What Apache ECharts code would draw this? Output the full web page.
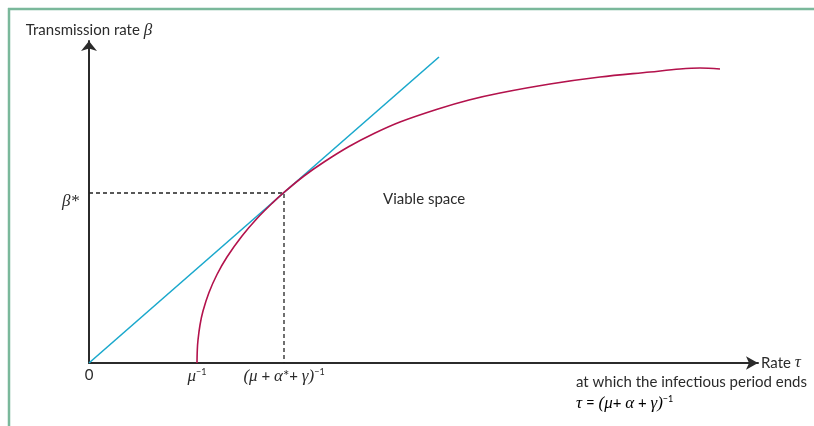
<!DOCTYPE html>
<html>
<head>
<meta charset="utf-8">
<script src="https://cdn.jsdelivr.net/npm/echarts@6/dist/echarts.min.js"></script>
<style>
  html, body { margin: 0; padding: 0; background: #fff; }
  #chart { width: 814px; height: 426px; }
</style>
</head>
<body>
<div id="chart"></div>
<script>
// 切线（青色）两端
const lineTau = [0, 350]
const lineBeta = [0, 306]
// 可行边界曲线（红色）
const curveTau = [108, 108.3, 109, 111, 114, 120, 128, 138, 153, 168, 183, 195, 215, 235, 260, 285, 311, 349, 380, 411, 461, 511, 561, 591, 611, 631]
const curveBeta = [0, 13, 23, 38, 52, 70.5, 88.5, 106, 127, 144.5, 159.6, 170.6, 187, 201, 216.5, 229.5, 241, 254, 263, 270, 279, 286, 291, 294, 295, 294]
// 切点
const tauStar = 195
const betaStar = 170
const muInv = 108
// 刻度
const tickTau = [0, muInv, tauStar]
const tickBeta = [betaStar]

const textColor = '#2b2b2b'
const sans = 'Lato'
const serif = 'Liberation Serif'

const rich = {
  t: { fontFamily: sans, fontSize: 15, color: textColor },
  m: { fontFamily: serif, fontStyle: 'italic', fontSize: 17, color: textColor },
  s: { fontFamily: sans, fontSize: 9, color: textColor, verticalAlign: 'top', lineHeight: 10 }
}

const xLabelText = {}
xLabelText[0] = '{t|0}'
xLabelText[muInv] = '{m|μ}{s|−1}'
xLabelText[tauStar] = '{m|(μ}{t| + }{m|α}{t|*+ }{m|γ)}{s|−1}'

const chart = echarts.init(document.getElementById('chart'))

const option = {
  animation: false,
  backgroundColor: '#fff',
  grid: { left: 89, right: 56, top: 41, bottom: 63 },
  xAxis: {
    type: 'value',
    min: 0,
    max: 669,
    name: '{t|Rate }{m|τ}',
    nameLocation: 'end',
    nameGap: 3,
    nameTextStyle: { rich: rich },
    splitLine: { show: false },
    axisTick: { show: false },
    axisLine: {
      lineStyle: { color: textColor, width: 2 },
      symbol: ['none', 'arrow'],
      symbolSize: [10, 12]
    },
    axisLabel: {
      customValues: tickTau,
      margin: 5,
      formatter: v => xLabelText[v] || '',
      rich: rich
    }
  },
  yAxis: {
    type: 'value',
    min: 0,
    max: 322,
    name: '{t|Transmission rate }{m|β}',
    nameLocation: 'end',
    nameGap: 2,
    nameTextStyle: { rich: rich },
    splitLine: { show: false },
    axisTick: { show: false },
    axisLine: {
      lineStyle: { color: textColor, width: 2 },
      symbol: ['none', 'arrow'],
      symbolSize: [12, 10]
    },
    axisLabel: {
      customValues: tickBeta,
      margin: 10,
      verticalAlign: 'top',
      formatter: () => '{m|β*}',
      rich: rich
    }
  },
  series: [
    {
      name: '切点虚线',
      type: 'line',
      symbol: 'none',
      data: [[0, betaStar], [tauStar, betaStar], [tauStar, 0]],
      lineStyle: { color: '#222', width: 1.3, type: [4, 3] }
    },
    {
      name: '切线',
      type: 'line',
      symbol: 'none',
      data: lineTau.map((t, i) => [t, lineBeta[i]]),
      lineStyle: { color: '#1aa8cc', width: 1.6 }
    },
    {
      name: '边界',
      type: 'line',
      symbol: 'none',
      smooth: 0.35,
      data: curveTau.map((t, i) => [t, curveBeta[i]]),
      lineStyle: { color: '#b3124c', width: 1.6 }
    }
  ],
  graphic: [
    // 外框
    { type: 'line', shape: { x1: 8, y1: 9, x2: 814, y2: 9 }, style: { stroke: '#7ab89b', lineWidth: 2.5 } },
    { type: 'line', shape: { x1: 9, y1: 8, x2: 9, y2: 426 }, style: { stroke: '#7ab89b', lineWidth: 2.5 } },
    {
      type: 'text', left: 383, top: 192,
      style: { text: 'Viable space', font: '15px Lato', fill: textColor }
    },
    {
      type: 'text', left: 576, top: 375,
      style: { text: 'at which the infectious period ends', font: '15px Lato', fill: textColor }
    },
    {
      type: 'text', left: 576, top: 395,
      style: {
        text: '{m|τ}{t| = }{m|(μ}{t|+ }{m|α}{t| + }{m|γ)}{s|−1}',
        rich: rich
      }
    }
  ]
}

chart.setOption(option)
</script>
</body>
</html>
